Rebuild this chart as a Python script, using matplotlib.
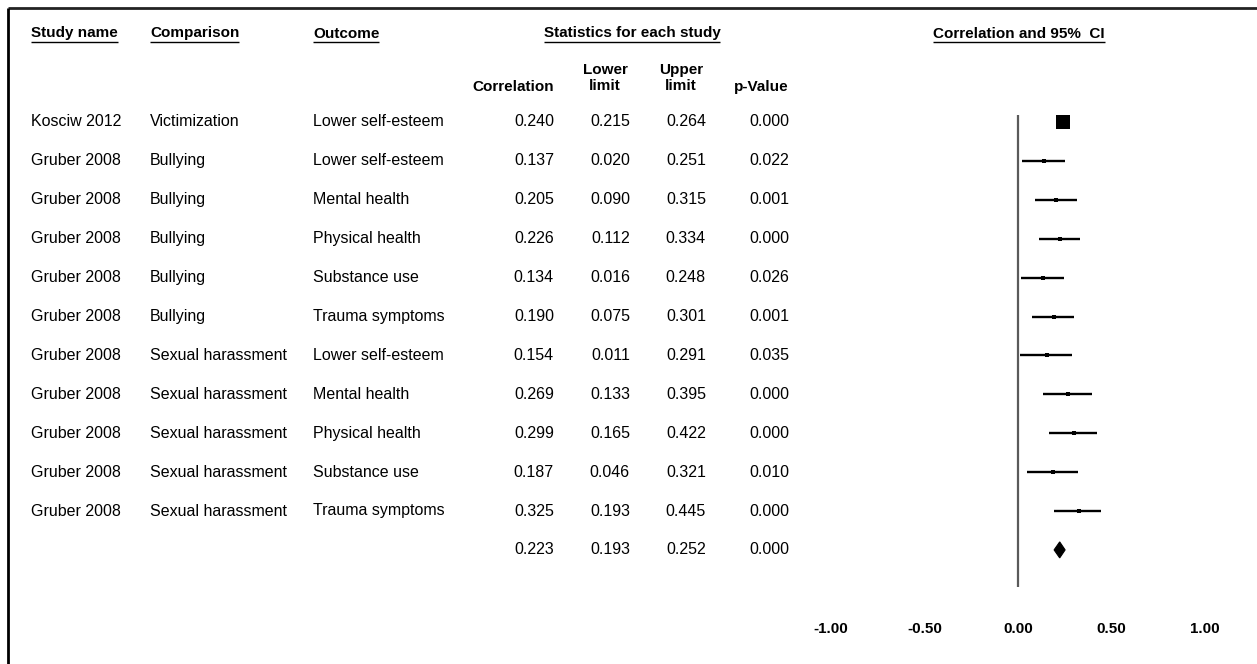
import matplotlib
matplotlib.use("Agg")
import matplotlib.pyplot as plt
from matplotlib.patches import Polygon
import numpy as np

plt.rcParams["font.family"] = ["Liberation Sans", "DejaVu Sans"]

# ---- data -------------------------------------------------------------
studies = ["Kosciw 2012"] + ["Gruber 2008"] * 10
comparisons = ["Victimization"] + ["Bullying"] * 5 + ["Sexual harassment"] * 5
outcomes = ["Lower self-esteem", "Lower self-esteem", "Mental health",
            "Physical health", "Substance use", "Trauma symptoms",
            "Lower self-esteem", "Mental health", "Physical health",
            "Substance use", "Trauma symptoms"]
correlation = [0.240, 0.137, 0.205, 0.226, 0.134, 0.190, 0.154, 0.269, 0.299, 0.187, 0.325]
lower = [0.215, 0.020, 0.090, 0.112, 0.016, 0.075, 0.011, 0.133, 0.165, 0.046, 0.193]
upper = [0.264, 0.251, 0.315, 0.334, 0.248, 0.301, 0.291, 0.395, 0.422, 0.321, 0.445]
p_value = [0.000, 0.022, 0.001, 0.000, 0.026, 0.001, 0.035, 0.000, 0.000, 0.010, 0.000]

summary_corr, summary_lower, summary_upper, summary_p = 0.223, 0.193, 0.252, 0.000
x_ticks = [-1.0, -0.5, 0.0, 0.5, 1.0]

# ---- figure -----------------------------------------------------------
W, H = 1257, 664
fig = plt.figure(figsize=(W / 100, H / 100), dpi=100)
fig.patch.set_facecolor("white")

# full-figure layer in pixel units for the table text
tab = fig.add_axes([0, 0, 1, 1])
tab.set_xlim(0, W)
tab.set_ylim(H, 0)
tab.axis("off")

ROW0, ROWSTEP = 122.0, 38.9


def row_y(i):
    return ROW0 + ROWSTEP * i


FS = 11.5
FS_B = 11.0

# outer frame (top and left edges)
tab.plot([8, W], [8, 8], color="#222222", lw=2.0, solid_capstyle="butt")
tab.plot([8, 8], [8, H], color="black", lw=2.0, solid_capstyle="butt")

# column headers (underlined)
headers = [
    ("Study name", 31, "left"),
    ("Comparison", 150, "left"),
    ("Outcome", 313, "left"),
    ("Statistics for each study", 632, "center"),
    ("Correlation and 95%  CI", 1019, "center"),
]
header_texts = []
for label, x, ha in headers:
    t = tab.text(x, 33.5, label, ha=ha, va="center", fontsize=FS_B, fontweight="bold")
    header_texts.append(t)

# sub headers
tab.text(554, 87, "Correlation", ha="right", va="center", fontsize=FS_B, fontweight="bold")
tab.text(605, 78, "Lower\nlimit", ha="center", va="center", fontsize=FS_B,
         fontweight="bold", multialignment="center", linespacing=1.25)
tab.text(681, 78, "Upper\nlimit", ha="center", va="center", fontsize=FS_B,
         fontweight="bold", multialignment="center", linespacing=1.25)
tab.text(789, 87, "p-Value", ha="right", va="center", fontsize=FS_B, fontweight="bold")

# table body
num_cols = [554, 630, 706, 789]
for i in range(len(studies)):
    y = row_y(i)
    tab.text(31, y, studies[i], ha="left", va="center", fontsize=FS)
    tab.text(150, y, comparisons[i], ha="left", va="center", fontsize=FS)
    tab.text(313, y, outcomes[i], ha="left", va="center", fontsize=FS)
    for x, v in zip(num_cols, [correlation[i], lower[i], upper[i], p_value[i]]):
        tab.text(x, y, f"{v:.3f}", ha="right", va="center", fontsize=FS)

ys = row_y(len(studies))
for x, v in zip(num_cols, [summary_corr, summary_lower, summary_upper, summary_p]):
    tab.text(x, ys, f"{v:.3f}", ha="right", va="center", fontsize=FS)

# ---- forest panel -----------------------------------------------------
ax_left, ax_right = 831, 1205
ax_top, ax_bot = 100, 600
ax = fig.add_axes([ax_left / W, 1 - ax_bot / H, (ax_right - ax_left) / W, (ax_bot - ax_top) / H])
ax.set_xlim(-1, 1)
ax.set_ylim((ax_bot - ROW0) / ROWSTEP, (ax_top - ROW0) / ROWSTEP)
ax.patch.set_alpha(0)
for s in ax.spines.values():
    s.set_visible(False)
ax.set_yticks([])
ax.set_xticks(x_ticks)
ax.set_xticklabels([f"{t:.2f}" for t in x_ticks], fontsize=10.9, fontweight="bold")
ax.tick_params(axis="x", length=0, pad=16)

n = len(studies)
# zero reference line
ax.plot([0, 0], [(115 - ROW0) / ROWSTEP, (587 - ROW0) / ROWSTEP],
        color="#5a5a5a", lw=1.6, solid_capstyle="butt", zorder=1)

# study estimates: square size scaled by precision (inverse CI width)
widths = np.array(upper) - np.array(lower)
side_px = np.clip(14.0 * widths.min() / widths, 4.0, None)
for i in range(n):
    ax.plot([lower[i], upper[i]], [i, i], color="black", lw=1.7,
            solid_capstyle="butt", zorder=2)
    ax.plot(correlation[i], i, marker="s", color="black",
            markersize=side_px[i] * 0.72, markeredgewidth=0, zorder=3)

# pooled estimate diamond
h = 8.0 / ROWSTEP
diamond = Polygon([[summary_lower, n], [summary_corr, n - h],
                   [summary_upper, n], [summary_corr, n + h]],
                  closed=True, facecolor="black", edgecolor="black", lw=0.8, zorder=3)
ax.add_patch(diamond)

# underline the column headers
fig.canvas.draw()
renderer = fig.canvas.get_renderer()
for t in header_texts:
    bb = t.get_window_extent(renderer)
    yline = H - bb.y0 + 1.5
    tab.plot([bb.x0, bb.x1], [yline, yline], color="black", lw=1.0, solid_capstyle="butt")

fig.savefig("out.png", dpi=100)
